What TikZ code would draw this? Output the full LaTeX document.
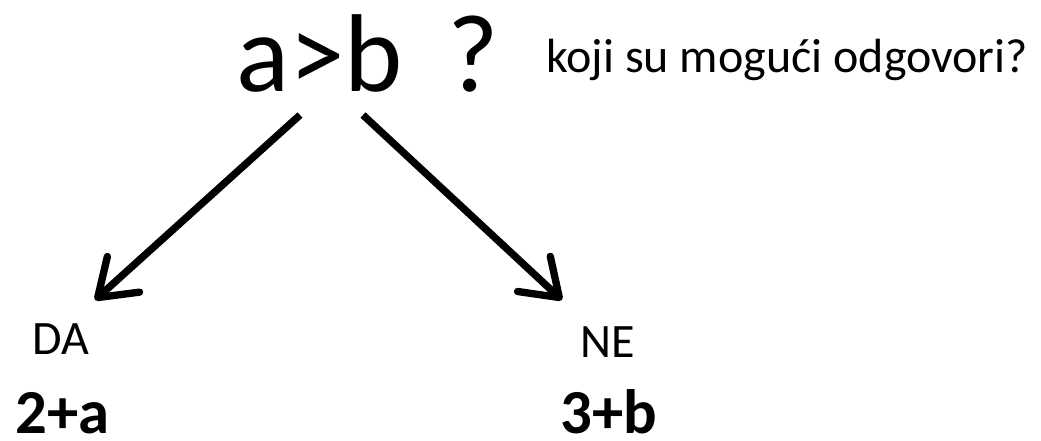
\documentclass[tikz,border=0pt]{standalone}
\usepackage{fontspec}
\setmainfont{Carlito}
\usetikzlibrary{arrows.meta}

\begin{document}
\begin{tikzpicture}[x=0.75pt,y=-0.75pt]

        \useasboundingbox (0,0) rectangle (1041,440);

        \begin{scope}[every node/.style={inner sep=0pt,anchor=base west}]
          \node (q)   at (236,91)  {\fontsize{83}{83}\selectfont a>b\hspace{15pt} ?};
          \node (txt) at (546,72)  {\fontsize{36}{36}\selectfont koji su mogući odgovori?};
          \node (da)  at (32,354)  {\fontsize{36}{36}\selectfont DA};
          \node (ne)  at (580,357) {\fontsize{36}{36}\selectfont NE};
          \node (r1)  at (15,433)  {\fontsize{47}{47}\selectfont\bfseries 2+a};
          \node (r2)  at (560,433) {\fontsize{47}{47}\selectfont\bfseries 3+b};
        \end{scope}

        % start and tip of the two answers
        \coordinate (l1) at (300,115);
        \coordinate (l2) at (95,300);
        \coordinate (d1) at (363,115);
        \coordinate (d2) at (562,300);

        \begin{scope}[line width=5.5pt,-{Straight Barb[length=26pt,width=36pt,line join=round,line cap=round]}]
          \draw (l1) -- (l2);
          \draw (d1) -- (d2);
        \end{scope}

      \end{tikzpicture}
\end{document}
